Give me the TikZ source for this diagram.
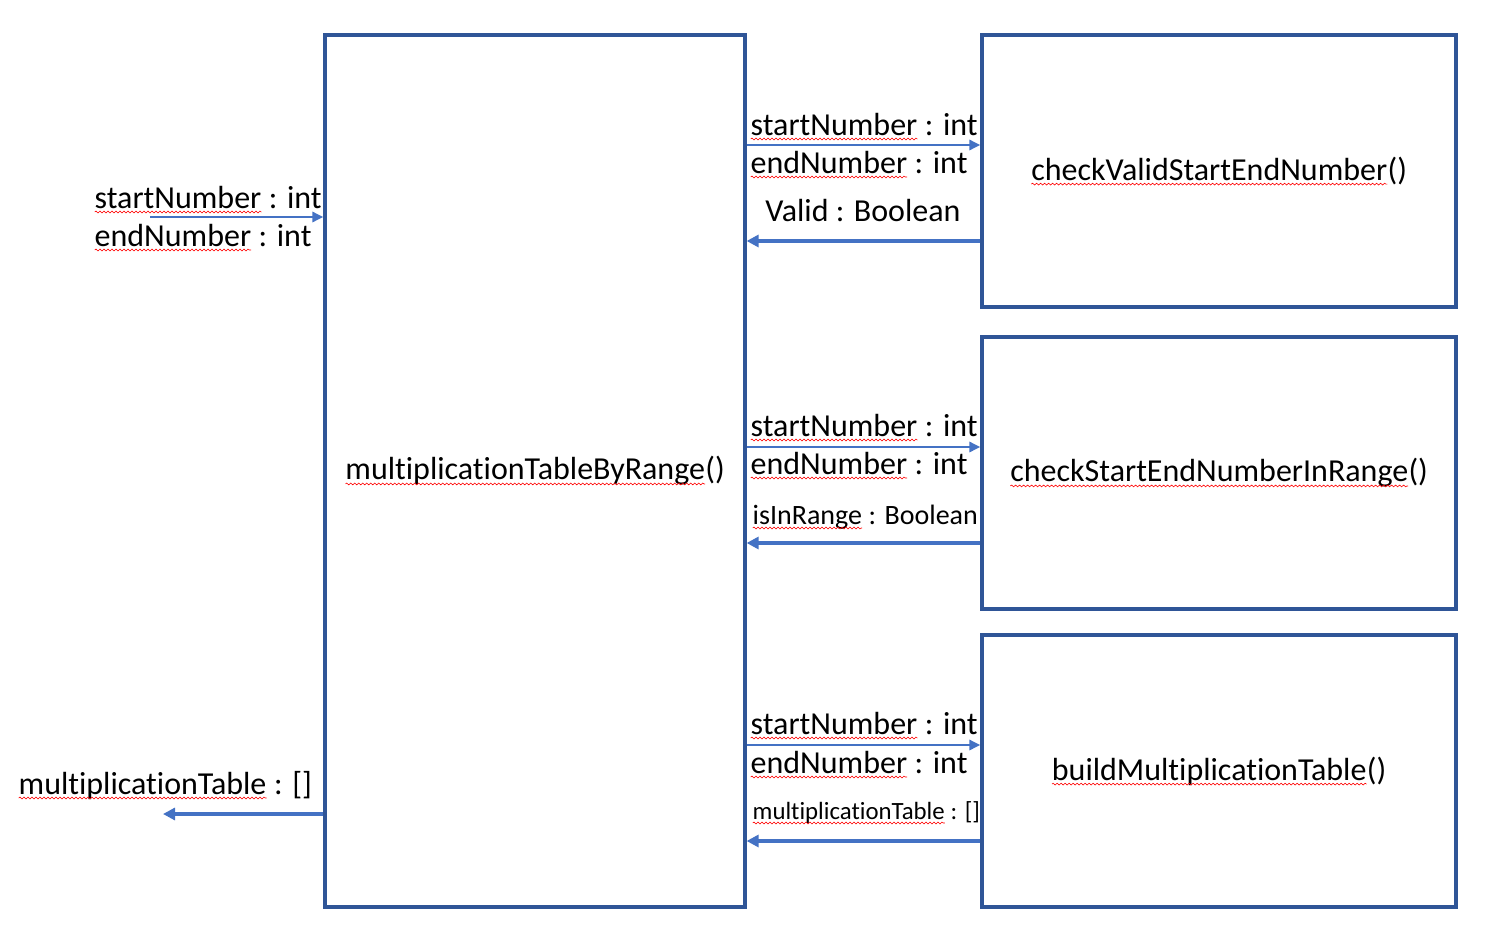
\documentclass[tikz,border=0pt]{standalone}
\usepackage{fontspec}
\setmainfont{Carlito}[Ligatures={NoCommon}]
\usetikzlibrary{arrows.meta,positioning,decorations.pathmorphing}
\definecolor{frame}{HTML}{2F5597}
\definecolor{flowblue}{HTML}{4472C4}
\newcommand{\typo}[1]{\tikz[baseline=(w.base)]{\node[inner sep=0pt,outer sep=0pt,
    minimum width=0pt,minimum height=0pt,draw=none,anchor=base] (w) {#1};
  \draw[red,line width=.3pt,decorate,decoration={snake,amplitude=.45pt,segment length=2pt}]
    ([yshift=-2pt]w.base west) -- ([yshift=-2pt]w.base east);}}

\begin{document}
\begin{tikzpicture}[x=0.5pt,y=-0.5pt,
    box/.style={rectangle,draw=frame,line width=1.6pt,align=center,
        font=\fontsize{16}{19}\selectfont},
    flow/.style={draw=flowblue,line width=1.4pt,-{Triangle[length=5.5pt,width=5pt]}},
    back/.style={draw=flowblue,line width=2.1pt,-{Triangle[length=6pt,width=6pt]}},
    lbl/.style={inner sep=0pt,anchor=base west,font=\fontsize{16}{19}\selectfont},
    lblsmall/.style={lbl,font=\fontsize{14}{17}\selectfont},
    lbltiny/.style={lbl,font=\fontsize{12.4}{14}\selectfont}]
  \useasboundingbox (0,0) rectangle (1506,926);

  % functions
  \node[box,minimum width=210pt,minimum height=436pt] (main) at (535,471)
    {\typo{multiplicationTableByRange}()};
  \node[box,minimum width=237pt,minimum height=136pt] (valid) at (1219,171)
    {\typo{checkValidStartEndNumber}()};
  \node[box,minimum width=237pt,minimum height=136pt] (range) at (1219,473)
    {\typo{checkStartEndNumberInRange}()};
  \node[box,minimum width=237pt,minimum height=136pt] (build) at (1219,771)
    {\typo{buildMultiplicationTable}()};

  % outer input / output
  \coordinate (in) at (150,217);
  \coordinate (out) at (163,814);
  \draw[flow] (in) -- (in -| main.west);
  \draw[back] (out -| main.west) -- (out);
  \node[lbl] (inStart) at (94,208) {\typo{startNumber} : int};
  \node[lbl] (inEnd) at (94,246) {\typo{endNumber} : int};
  \node[lbl] (outTable) at (18,794) {\typo{multiplicationTable} : []};

  % calls
  \foreach \b in {valid,range,build}{
    \coordinate (\b-in) at ([yshift=13pt]\b.west);
    \coordinate (\b-ret) at ([yshift=-35pt]\b.west);
    \draw[flow] (main.east |- \b-in) -- (\b-in);
    \draw[back] (\b-ret) -- (main.east |- \b-ret);
  }

  \node[lbl] (vStart) at (750,135) {\typo{startNumber} : int};
  \node[lbl] (vEnd) at (750,173) {\typo{endNumber} : int};
  \node[lbl,anchor=base] (vRet) at (863,221) {Valid : Boolean};

  \node[lbl] (rStart) at (750,436) {\typo{startNumber} : int};
  \node[lbl] (rEnd) at (750,474) {\typo{endNumber} : int};
  \node[lblsmall] (rRet) at (752,524) {\typo{isInRange} : Boolean};

  \node[lbl] (bStart) at (750,734) {\typo{startNumber} : int};
  \node[lbl] (bEnd) at (750,773) {\typo{endNumber} : int};
  \node[lbltiny] (bRet) at (752,819) {\typo{multiplicationTable} : []};
\end{tikzpicture}
\end{document}
